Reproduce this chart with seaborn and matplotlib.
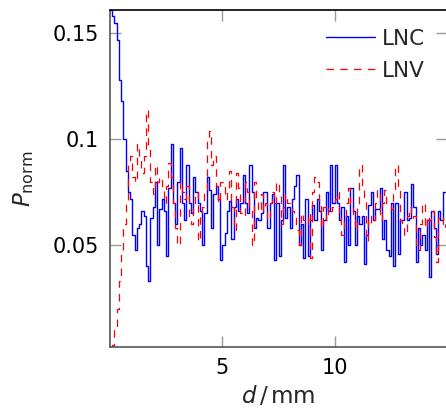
import numpy as np
import pandas as pd
import matplotlib
matplotlib.use("Agg")
import matplotlib.pyplot as plt
import seaborn as sns

# bin start positions (mm), bin width 0.1 mm
d_mm = [round(0.1 * i, 1) for i in range(150)]

lnc = [
    0.161, 0.158, 0.155, 0.147, 0.128, 0.118, 0.100, 0.085, 0.075, 0.072,
    0.055, 0.048, 0.058, 0.060, 0.066, 0.064, 0.040, 0.033, 0.063, 0.068,
    0.080, 0.050, 0.067, 0.072, 0.066, 0.045, 0.077, 0.098, 0.070, 0.060,
    0.080, 0.096, 0.070, 0.062, 0.088, 0.070, 0.065, 0.082, 0.075, 0.070,
    0.066, 0.050, 0.065, 0.082, 0.076, 0.058, 0.074, 0.078, 0.072, 0.043,
    0.050, 0.056, 0.066, 0.071, 0.053, 0.068, 0.072, 0.066, 0.070, 0.083,
    0.070, 0.065, 0.088, 0.075, 0.058, 0.063, 0.062, 0.065, 0.075, 0.075,
    0.058, 0.070, 0.074, 0.043, 0.070, 0.045, 0.062, 0.088, 0.063, 0.068,
    0.058, 0.072, 0.078, 0.083, 0.050, 0.060, 0.044, 0.072, 0.045, 0.062,
    0.069, 0.062, 0.072, 0.066, 0.048, 0.062, 0.075, 0.066, 0.088, 0.070,
    0.088, 0.070, 0.062, 0.068, 0.042, 0.064, 0.050, 0.077, 0.066, 0.050,
    0.064, 0.060, 0.064, 0.041, 0.055, 0.069, 0.075, 0.062, 0.067, 0.067,
    0.077, 0.053, 0.062, 0.048, 0.045, 0.070, 0.040, 0.070, 0.046, 0.062,
    0.062, 0.075, 0.062, 0.063, 0.079, 0.068, 0.042, 0.058, 0.050, 0.055,
    0.048, 0.062, 0.035, 0.066, 0.058, 0.046, 0.066, 0.062, 0.075, 0.075,
]

lnv = [
    0.002, 0.003, 0.010, 0.020, 0.033, 0.048, 0.060, 0.070, 0.088, 0.092,
    0.082, 0.080, 0.098, 0.090, 0.084, 0.092, 0.114, 0.095, 0.080, 0.074,
    0.088, 0.080, 0.082, 0.076, 0.070, 0.078, 0.089, 0.082, 0.070, 0.058,
    0.050, 0.080, 0.075, 0.072, 0.078, 0.062, 0.060, 0.068, 0.075, 0.052,
    0.065, 0.068, 0.076, 0.100, 0.104, 0.088, 0.092, 0.078, 0.070, 0.080,
    0.080, 0.072, 0.075, 0.085, 0.068, 0.057, 0.084, 0.077, 0.065, 0.064,
    0.080, 0.075, 0.068, 0.050, 0.080, 0.072, 0.066, 0.074, 0.066, 0.070,
    0.062, 0.070, 0.075, 0.070, 0.080, 0.074, 0.060, 0.068, 0.074, 0.070,
    0.068, 0.066, 0.064, 0.057, 0.050, 0.065, 0.062, 0.060, 0.065, 0.044,
    0.075, 0.082, 0.080, 0.070, 0.058, 0.068, 0.062, 0.068, 0.066, 0.068,
    0.072, 0.075, 0.064, 0.055, 0.062, 0.070, 0.077, 0.068, 0.064, 0.057,
    0.068, 0.088, 0.078, 0.072, 0.052, 0.064, 0.060, 0.062, 0.070, 0.076,
    0.062, 0.070, 0.076, 0.070, 0.070, 0.067, 0.074, 0.088, 0.078, 0.062,
    0.060, 0.055, 0.064, 0.068, 0.063, 0.064, 0.050, 0.048, 0.060, 0.070,
    0.058, 0.064, 0.062, 0.066, 0.054, 0.042, 0.063, 0.064, 0.058, 0.060,
]

x_ticks = [5, 10]
y_ticks = [0.05, 0.1, 0.15]
y_ticklabels = ["0.05", "0.1", "0.15"]

sns.set_style("ticks")
plt.rcParams["font.family"] = ["DejaVu Sans"]
plt.rcParams["mathtext.fontset"] = "dejavusans"

fig = plt.figure(figsize=(4.46, 4.20), dpi=100)
ax = fig.add_axes([110 / 446, 73 / 420, 337 / 446, 337 / 420])

sns.lineplot(x=d_mm, y=lnc, ax=ax, color="#0000ff", lw=1.0,
             drawstyle="steps-post", label="LNC", sort=False)
sns.lineplot(x=d_mm, y=lnv, ax=ax, color="#ff0000", lw=0.9,
             drawstyle="steps-post", label="LNV", sort=False,
             linestyle=(0, (6, 5)))

ax.set_xlim(0, 15)
ax.set_ylim(0.002, 0.161)
ax.set_xticks(x_ticks)
ax.set_xticklabels([str(t) for t in x_ticks])
ax.set_yticks(y_ticks)
ax.set_yticklabels(y_ticklabels)
ax.tick_params(axis="both", which="both", direction="in", length=8, width=1,
               color="#999999", labelsize=15, labelcolor="black",
               top=True, right=True, pad=8)

for side in ["left", "bottom", "right"]:
    ax.spines[side].set_color("#555555")
    ax.spines[side].set_linewidth(1.2)
ax.spines["top"].set_color("black")
ax.spines["top"].set_linewidth(1.2)

ax.set_xlabel(r"$d\,/\,\mathrm{mm}$", fontsize=16.5, labelpad=4)
ax.set_ylabel(r"$P_{\mathrm{norm}}$", fontsize=16.5, labelpad=12)

leg = ax.legend(loc="upper right", bbox_to_anchor=(0.985, 0.995), frameon=True,
                fontsize=15.5, handlelength=2.3, handletextpad=0.3,
                labelspacing=0.55, borderpad=0.3)
leg.get_frame().set_edgecolor("none")
leg.get_frame().set_facecolor("white")
leg.get_frame().set_alpha(1.0)

fig.savefig("out.png", dpi=100)
